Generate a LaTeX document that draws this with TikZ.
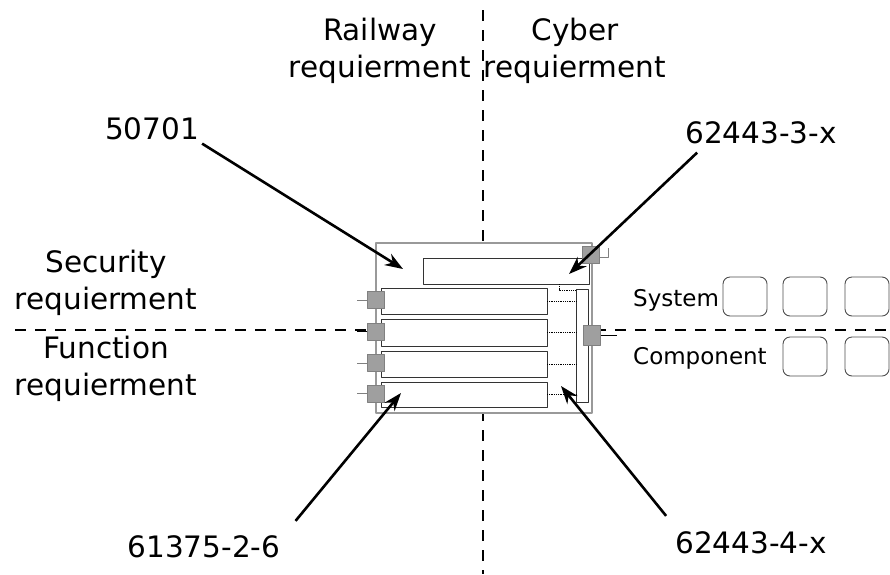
\documentclass[tikz,border=0pt]{standalone}
\usepackage{fontspec}
\setmainfont{DejaVu Sans}
\usetikzlibrary{arrows.meta,calc}
\tikzset{
  big/.style={font=\fontsize{29.5}{37}\selectfont, align=center, inner sep=0pt},
  small/.style={font=\fontsize{23}{27}\selectfont, inner sep=0pt},
  sep/.style={dash pattern=on 11pt off 9pt, line width=1.9pt},
  ptr/.style={line width=2.6pt, -{Stealth[length=18pt,width=13pt]}},
  frame/.style={draw=gray!80, fill=white, line width=1.5pt},
  slot/.style={draw=black!80, line width=0.9pt},
  port/.style={draw=gray, fill=gray!75, minimum size=17pt, inner sep=0pt},
  unit/.style={draw=black!70, line width=0.9pt, rounded corners=7pt},
  wire/.style={densely dotted, line width=0.8pt}
}
\begin{document}
\begin{tikzpicture}[x=1pt, y=-1pt, line join=round]
\useasboundingbox (0,0) rectangle (890,574);
% quadrant lines
\draw[sep] (483,10) -- (483,574);
\draw[sep] (15,330) -- (890,330);
% requirement labels
\node[big] (rail) at (380,51) {Railway\\requierment};
\node[big] (cyb) at (575,51) {Cyber\\requierment};
\node[big] (sec) at (106,283) {Security\\requierment};
\node[big] (fun) at (106,369) {Function\\requierment};
% standard labels
\foreach \x\y\t\s in {152/139/a/50701,761/143/b/62443-3-x,204/557/c/61375-2-6,751/553/d/62443-4-x}
  \node[big, anchor=base] (n\t) at (\x,\y) {\s};
% levels
\node[small, anchor=base west] (sys) at (633,306) {System};
\node[small, anchor=base west] (comp) at (633,364) {Component};
\foreach \x\y in {723/277,783/277,845/277,783/337,845/337}
  \draw[unit] (\x,\y) rectangle ++(44,39);
% the device
\draw[frame] (376,243) rectangle (592,413);
\draw[slot] (423,258) rectangle (589,284);
\draw[slot] (576,289) rectangle (588,402);
\draw[wire] (559,284) |- (576,290);
\foreach \a\b\i\c in {288/314/1/gray,319/346/2/black,351/377/3/gray,382/407/4/gray}{
  \draw[slot] (381,\a) rectangle (547,\b);
  \draw[wire] (547,{(\a+\b)/2}) -- (576,{(\a+\b)/2});
  \node[port] (p\i) at (376,{(\a+\b)/2-1}) {};
  \draw[\c, line width=1pt] (p\i.west) -- ++(-10,0);
}
\node[port] (pt) at (591,255) {};
\draw[gray, line width=1pt] (pt.east) ++(0,2) -| ++(9,-9);
\node[port, minimum height=20pt] (pr) at (592,335) {};
\draw[line width=1pt] (pr.east) -- ++(16,0);
% pointers
\foreach \t\x\y in {t1/403/269,t2/569/274,t3/401/393,t4/561/386}
  \coordinate (\t) at (\x,\y);
\draw[ptr] ($(na.south east)+(3,4)$) -- (t1);
\draw[ptr] ($(nb.south west)+(12,9)$) -- (t2);
\draw[ptr] ($(nc.north east)+(15,-14)$) -- (t3);
\draw[ptr] ($(nd.north west)+(-9,-15)$) -- (t4);
\end{tikzpicture}
\end{document}
